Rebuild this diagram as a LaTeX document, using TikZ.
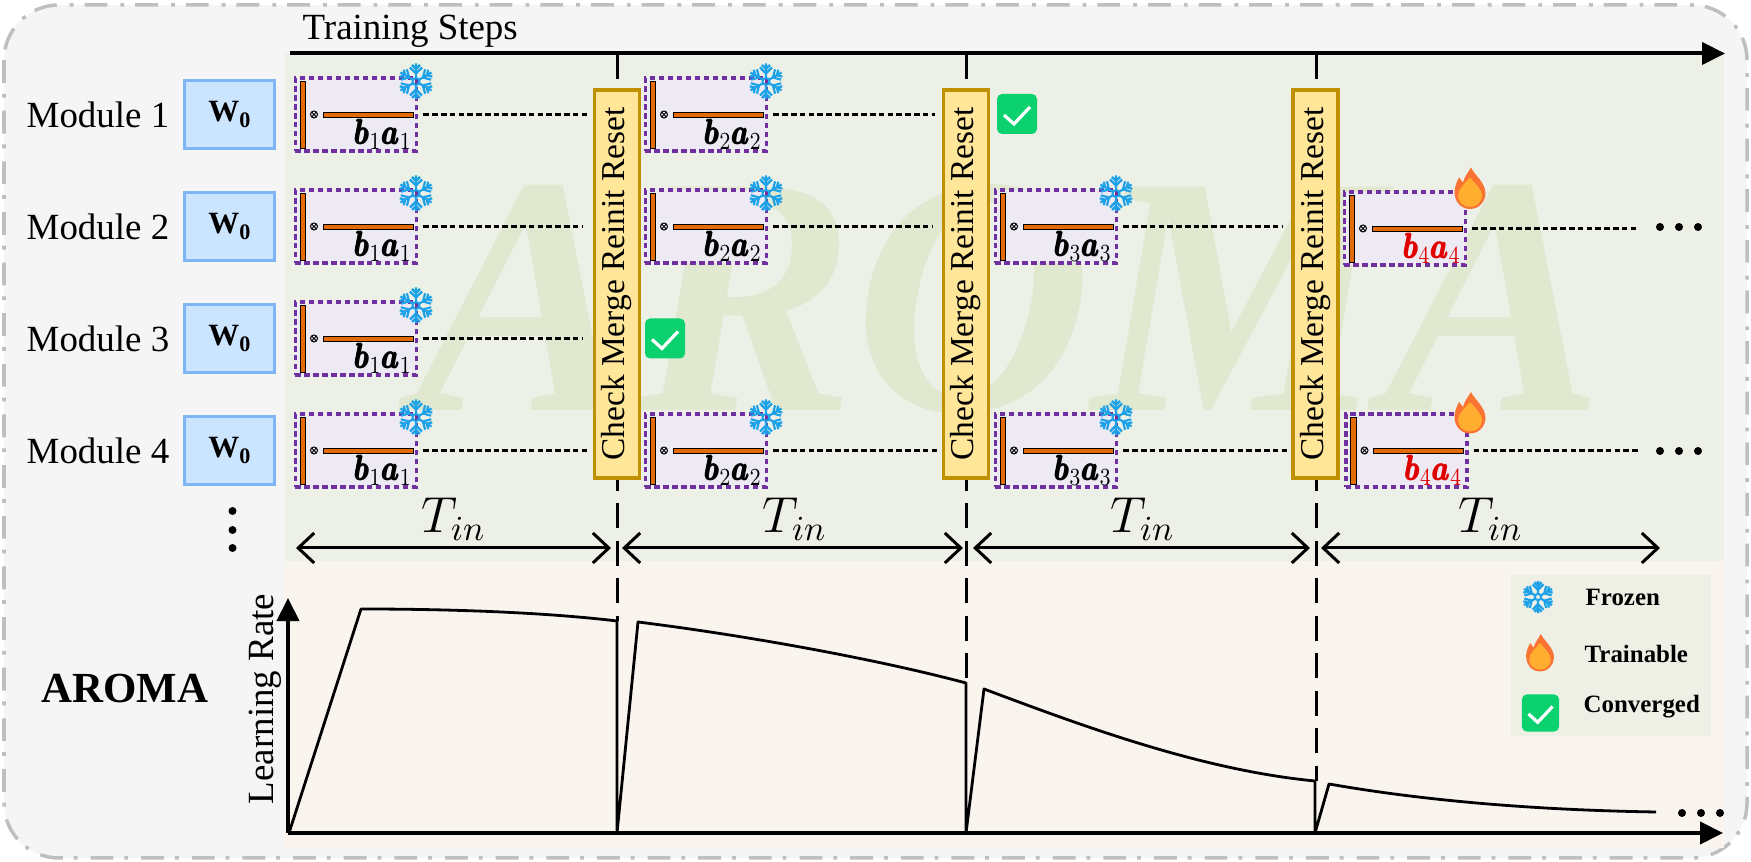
\documentclass[tikz,border=0pt]{standalone}
\usepackage{amsmath}
\usepackage{fontspec}
\setmainfont{Liberation Serif}
\usetikzlibrary{arrows.meta}

\newcommand{\pxfont}[1]{\fontsize{#1}{#1}\selectfont}
\definecolor{framegray}{HTML}{BFBFBF}
\definecolor{framefill}{HTML}{F5F5F5}
\definecolor{greenpanel}{HTML}{EDF0E6}
\definecolor{beigepanel}{HTML}{F9F4EE}
\definecolor{markcolor}{HTML}{E0E8D0}
\definecolor{wfill}{HTML}{CCE5FF}
\definecolor{wline}{HTML}{7EB6F5}
\definecolor{lrfill}{HTML}{EEEAF4}
\definecolor{lrline}{HTML}{7030A0}
\definecolor{barfill}{HTML}{E36C0A}
\definecolor{stepfill}{HTML}{FFE699}
\definecolor{stepline}{HTML}{BF9000}
\definecolor{iceblue}{HTML}{1DA1E8}
\definecolor{flameout}{HTML}{F97432}
\definecolor{flamein}{HTML}{FFAE2F}
\definecolor{donegreen}{HTML}{0BD16E}
\definecolor{legendfill}{HTML}{EEEFE5}
\definecolor{redlabel}{HTML}{E00000}

\tikzset{
  modlabel/.style={anchor=west, inner sep=0pt, font=\pxfont{10.5}},
  wbox/.style={draw=wline, fill=wfill, line width=.03cm, minimum width=.9cm, minimum height=.67cm, inner sep=0pt, font=\pxfont{8.8}\bfseries},
  lrbox/.style={draw=lrline, fill=lrfill, line width=.036cm, dash pattern=on 1.5pt off 1.05pt, minimum width=1.21cm, minimum height=.725cm, inner sep=0pt},
  orangebar/.style={draw=black, fill=barfill, line width=.008cm},
  timesline/.style={line width=.01cm},
  dotline/.style={line width=.028cm, dash pattern=on 1.6pt off .9pt},
  stepbox/.style={draw=stepline, fill=stepfill, line width=.035cm, minimum width=3.88cm, minimum height=.45cm, inner sep=0pt, rotate=90, font=\pxfont{9.5}},
  vline/.style={line width=.03cm, dash pattern=on 7.1pt off 3.55pt},
  mainaxis/.style={line width=.04cm, -{Triangle[length=.23cm,width=.22cm]}},
  tinarrow/.style={line width=.03cm, {Straight Barb[length=.16cm,width=.3cm]}-{Straight Barb[length=.16cm,width=.3cm]}},
  tinlabel/.style={inner sep=0pt, font=\pxfont{13.7}},
  lrcurve/.style={line width=.028cm, line join=round},
  bigdot/.style={circle, fill=black, inner sep=0pt, minimum size=.08cm},
  legendtext/.style={anchor=west, inner sep=0pt, font=\pxfont{7.08}\bfseries},
  snowflake/.pic={
    \foreach \ang in {0,60,...,300}{
      \draw[iceblue, line width=.022cm, rotate=\ang] (0,-3.5) -- (0,-18)
        (0,-8) -- (-6,-14) (0,-8) -- (6,-14) (0,-12.5) -- (-4,-16.5) (0,-12.5) -- (4,-16.5);
    }
    \draw[iceblue, line width=.02cm] (0,0) circle (3.5);
  },
  flame/.pic={
    \fill[flameout] (0,20.5) .. controls (-10,20.5) and (-15.5,12) .. (-15.5,4)
      .. controls (-15.5,-2) and (-13,-7) .. (-11,-11) -- (-7,-6)
      .. controls (-6,-11) and (-2,-16) .. (1,-21)
      .. controls (4,-14) and (15.5,-6) .. (15.5,5)
      .. controls (15.5,13) and (9,20.5) .. (0,20.5) -- cycle;
    \fill[flamein] (0,18.5) .. controls (-7,18.5) and (-12,13) .. (-12,7)
      .. controls (-12,1) and (-6,-4) .. (0,-11)
      .. controls (6,-4) and (12,1) .. (12,7)
      .. controls (12,13) and (7,18.5) .. (0,18.5) -- cycle;
  },
  checkmark/.pic={
    \fill[donegreen, rounded corners=.05cm] (-20,-20) rectangle (20,20);
    \draw[white, line width=.032cm] (-13,1) -- (-3,10) -- (13,-7);
  },
}

\begin{document}
\begin{tikzpicture}[x=.01cm, y=-.01cm]
  \useasboundingbox (0,0) rectangle (1751,862);

  % frame and panels
  \draw[framegray, fill=framefill, line width=.035cm, rounded corners=.55cm, dash pattern=on 6.5pt off 3.1pt on 1.1pt off 3.7pt] (4,5) rectangle (1747,858);
  \fill[greenpanel] (285,54) rectangle (1724,561);
  \fill[beigepanel] (285,561) rectangle (1724,848);
  \node[anchor=base, inner sep=0pt, text=markcolor, font=\pxfont{97}\bfseries\itshape] (mark) at (1010,411) {\scalebox{.965}[1]{AROMA}};

  % axes
  \coordinate (top a) at (290,53.5);
  \coordinate (top b) at (1725,53.5);
  \coordinate (x a) at (288,833);
  \coordinate (x b) at (1723,833);
  \coordinate (y b) at (288,598);
  \node[anchor=west, inner sep=0pt, font=\pxfont{10.5}] (steps) at (302,31) {Training Steps};
  \draw[mainaxis] (top a) -- (top b);

  % dashed step lines
  \foreach \n/\x/\y in {1/617/621,2/966/683,3/1316/781}{
    \coordinate (v \n) at (\x,54);
    \coordinate (w \n) at (\x,\y);
    \draw[vline] (v \n) -- (w \n);
  }

  % modules
  \foreach \r/\y in {1/114.5,2/226.5,3/338.5,4/450.5}{
    \node[modlabel] (mod \r) at (26,\y) {Module \r};
    \node[wbox] (w0 \r) at (229.5,\y) {W\raisebox{-.2em}{\pxfont{6.3}0}};
  }
  \node[bigdot] (vd 1) at (232.5,511) {};
  \node[bigdot] (vd 2) at (232.5,530) {};
  \node[bigdot] (vd 3) at (232.5,548) {};

  % factor blocks, with the end of the dotted line
  \foreach \c/\r/\bx/\by/\ex/\tc in {1/1/356/114.5/588/black,1/2/356/226.5/583/black,1/3/356/338.5/583/black,1/4/356/450.5/587/black,
      2/1/706/114.5/935/black,2/2/706/226.5/933/black,2/4/706/450.5/937/black,
      3/2/1056/226.5/1282/black,3/4/1056/450.5/1288/black,
      4/2/1405/228.5/1636/redlabel,4/4/1406.5/450.5/1638/redlabel}{
    \node[lrbox] (m \c\r) at (\bx,\by) {};
    \draw[orangebar] (\bx-56,\by-33.5) rectangle (\bx-50.5,\by+33.5);
    \draw[orangebar] (\bx-33,\by-2.5) rectangle (\bx+57,\by+2.5);
    \draw[timesline] (\bx-42,\by) circle (3.5) (\bx-44.5,\by-2.5) -- (\bx-39.5,\by+2.5) (\bx-44.5,\by+2.5) -- (\bx-39.5,\by-2.5);
    \node[anchor=base east, inner sep=0pt, text=\tc, font=\pxfont{10}] (lab \c\r) at (\bx+57,\by+30) {\scalebox{.8}[1]{$\pmb{\boldsymbol{b}}_{\c}\pmb{\boldsymbol{a}}_{\c}$}};
    \coordinate (d \c\r) at (\ex,\by);
    \draw[dotline] (m \c\r.east) ++(5,0) -- (d \c\r);
  }
  \foreach \bx/\by in {356/114.5,356/226.5,356/338.5,356/450.5,706/114.5,706/226.5,706/450.5,1056/226.5,1056/450.5}{
    \pic at (\bx+60,\by-33) {snowflake};
  }
  \foreach \by in {188.5,413}{
    \pic at (1470,\by) {flame};
  }
  \foreach \n in {1,2,3}{
    \node[bigdot] (ru \n) at (1641+19*\n,227) {};
    \node[bigdot] (rl \n) at (1641+19*\n,451) {};
    \node[bigdot] (lr \n) at (1663+19*\n,813) {};
  }

  % check boxes
  \foreach \x in {617,966,1315.5}{
    \node[stepbox] (chk \x) at (\x,284) {Check Merge Reinit Reset};
  }
  \pic at (665,338.5) {checkmark};
  \pic at (1017,114) {checkmark};

  % T_in spans
  \foreach \n/\a/\b/\l in {1/296/611/454,2/622/963/795,3/973/1310/1143,4/1321/1660/1491}{
    \coordinate (ta \n) at (\a,548);
    \coordinate (tb \n) at (\b,548);
    \draw[tinarrow] (ta \n) -- (tb \n);
    \node[tinlabel] (tin \n) at (\l,519) {$T_{in}$};
  }

  % learning rate chart
  \node[font=\pxfont{12.2}\bfseries, inner sep=0pt] (aroma) at (125,689) {AROMA};
  \node[rotate=90, anchor=base, inner sep=0pt, font=\pxfont{10.5}] (lrate) at (273,699) {Learning Rate};
  \draw[mainaxis] (x a) -- (y b);
  \draw[mainaxis] (x a) -- (x b);
  \draw[lrcurve] (289,833) -- (361,609) .. controls (460,609) and (550,613) .. (617,621) -- (617,833)
    -- (638,622) .. controls (750,636) and (880,660) .. (966,683) -- (966,833)
    -- (984,689) .. controls (1080,725) and (1200,770) .. (1315,781) -- (1315,833)
    -- (1329,784) .. controls (1420,800) and (1530,810) .. (1656,812);

  % legend
  \fill[legendfill] (1511,575) rectangle (1711,736);
  \pic[scale=.9] at (1538,597) {snowflake};
  \pic[scale=.9] at (1540,653) {flame};
  \pic[scale=.93] at (1540.5,713) {checkmark};
  \node[legendtext] (frozen) at (1585,597) {Frozen};
  \node[legendtext] (trainable) at (1584,654) {Trainable};
  \node[legendtext] (converged) at (1583,707) {Converged};
\end{tikzpicture}
\end{document}
